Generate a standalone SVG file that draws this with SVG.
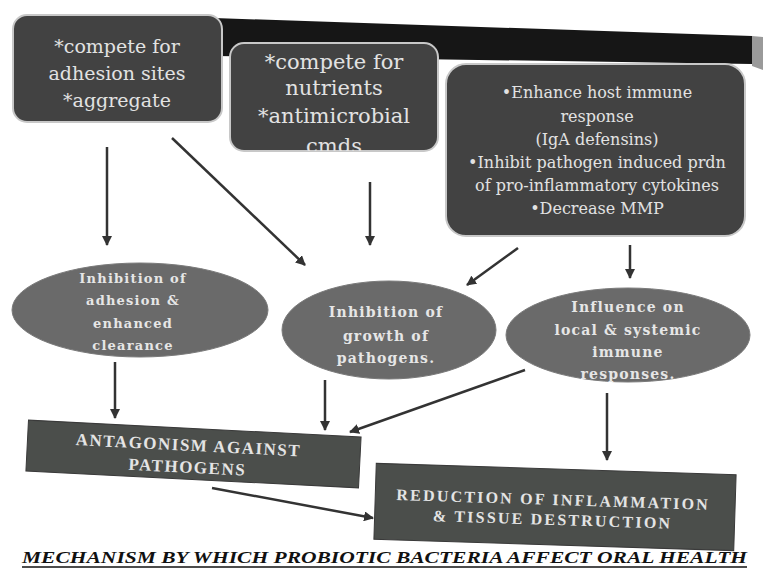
<svg xmlns="http://www.w3.org/2000/svg" width="763" height="585" viewBox="0 0 763 585">
<style>
.box{fill:#424242;stroke:#c8c8c8;stroke-width:2}
.ell{fill:#6a6a6a;stroke:#7a7a7a;stroke-width:1}
.rct{fill:#4b4e4b;stroke:#3a3a3a;stroke-width:1}
.bt{font-family:"DejaVu Serif","Liberation Serif",serif;fill:#e2e2e2;text-anchor:middle}
.et{font-family:"DejaVu Serif","Liberation Serif",serif;font-weight:bold;fill:#e6e6e6;text-anchor:middle;letter-spacing:1.2px}
.rt{font-family:"Liberation Serif","DejaVu Serif",serif;font-weight:bold;fill:#e4e4e4;text-anchor:middle}
.cn{stroke:#333;stroke-width:2.5;fill:none;marker-end:url(#ah)}
</style>
<defs>
<marker id="ah" viewBox="0 0 10 10" refX="9" refY="5" markerWidth="10" markerHeight="10" markerUnits="userSpaceOnUse" orient="auto">
<path d="M0,0 L10,5 L0,10 z" fill="#333"/>
</marker>
<clipPath id="c2"><rect x="230" y="43" width="208" height="108" rx="14"/></clipPath>
</defs>
<rect width="763" height="585" fill="#ffffff"/>
<polygon points="214,18 752,36 752,64 214,56" fill="#161616"/>
<polygon points="752,36 763,37 763,70 752,66" fill="#9a9a9a"/>

<g id="box1">
<rect class="box" x="13" y="15" width="209" height="107" rx="14"/>
<text class="bt" font-size="19"><tspan x="117" y="53">*compete  for</tspan><tspan x="117" y="80">adhesion sites</tspan><tspan x="117" y="107">*aggregate</tspan></text>
</g>
<g id="box2">
<rect class="box" x="230" y="43" width="208" height="108" rx="14"/>
<text class="bt" font-size="21" clip-path="url(#c2)"><tspan x="334" y="69">*compete for</tspan><tspan x="334" y="95">nutrients</tspan><tspan x="334" y="123">*antimicrobial</tspan><tspan x="334" y="153">cmds</tspan></text>
</g>
<g id="box3">
<rect class="box" x="446" y="64" width="299" height="172" rx="20"/>
<text class="bt" font-size="16"><tspan x="597" y="98">•Enhance host immune</tspan><tspan x="597" y="122">response</tspan><tspan x="597" y="145">(IgA defensins)</tspan><tspan x="597" y="168">•Inhibit pathogen induced prdn</tspan><tspan x="597" y="191">of pro-inflammatory cytokines</tspan><tspan x="597" y="214">•Decrease MMP</tspan></text>
</g>

<g id="ell1">
<ellipse class="ell" cx="140" cy="310" rx="128" ry="47"/>
<text class="et" font-size="13"><tspan x="133" y="283">Inhibition of</tspan><tspan x="133" y="305">adhesion &amp;</tspan><tspan x="133" y="328">enhanced</tspan><tspan x="133" y="350">clearance</tspan></text>
</g>
<g id="ell2">
<ellipse class="ell" cx="389" cy="330" rx="107" ry="49"/>
<text class="et" font-size="14"><tspan x="386" y="317">Inhibition of</tspan><tspan x="386" y="341">growth of</tspan><tspan x="386" y="363">pathogens.</tspan></text>
</g>
<g id="ell3">
<ellipse class="ell" cx="628" cy="335" rx="122" ry="47"/>
<text class="et" font-size="14"><tspan x="628" y="312">Influence on</tspan><tspan x="628" y="335">local &amp; systemic</tspan><tspan x="628" y="357">immune</tspan><tspan x="628" y="379">responses.</tspan></text>
</g>

<g id="rect1" transform="rotate(2.9 193.5 454)">
<rect class="rct" x="27" y="428.5" width="333" height="51"/>
<text class="rt" font-size="17" letter-spacing="1.5"><tspan x="188" y="451">ANTAGONISM AGAINST</tspan><tspan x="188" y="473">PATHOGENS</tspan></text>
</g>
<g id="rect2" transform="rotate(1.8 555 507)">
<rect class="rct" x="375" y="469" width="360" height="76"/>
<text class="rt" font-size="16" letter-spacing="2.2"><tspan x="553" y="505">REDUCTION OF INFLAMMATION</tspan><tspan x="553" y="525">&amp; TISSUE DESTRUCTION</tspan></text>
</g>

<g id="connectors">
<line class="cn" x1="107" y1="147" x2="107" y2="245"/>
<line class="cn" x1="172" y1="138" x2="305" y2="265"/>
<line class="cn" x1="370" y1="182" x2="370" y2="245"/>
<line class="cn" x1="518" y1="248" x2="467" y2="285"/>
<line class="cn" x1="630" y1="245" x2="630" y2="278"/>
<line class="cn" x1="115" y1="362" x2="115" y2="418"/>
<line class="cn" x1="325" y1="380" x2="325" y2="430"/>
<line class="cn" x1="525" y1="370" x2="350" y2="432"/>
<line class="cn" x1="607" y1="393" x2="607" y2="460"/>
<line class="cn" x1="212" y1="488" x2="373" y2="518"/>
</g>

<g id="title">
<text x="22" y="563" font-family="'Liberation Serif',serif" font-weight="bold" font-style="italic" font-size="16" fill="#111" textLength="725" lengthAdjust="spacingAndGlyphs">MECHANISM BY WHICH PROBIOTIC BACTERIA AFFECT ORAL HEALTH</text>
<line x1="22" y1="567" x2="747" y2="567" stroke="#111" stroke-width="1.5"/>
</g>
</svg>
